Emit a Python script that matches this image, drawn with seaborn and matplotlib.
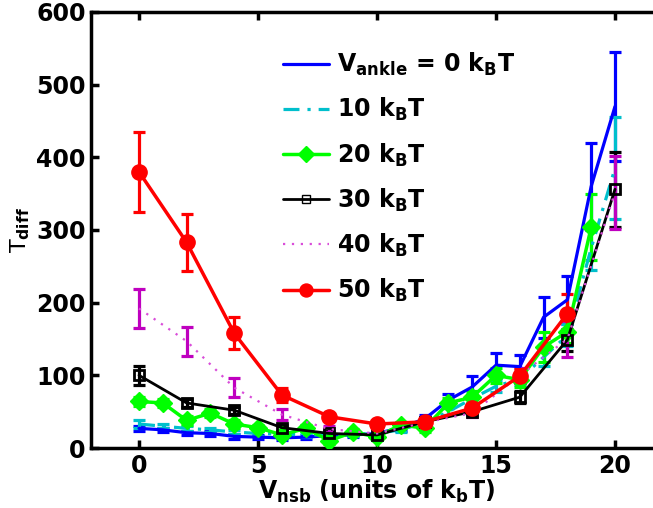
import numpy as np
import pandas as pd
import matplotlib
matplotlib.use("Agg")
import matplotlib.pyplot as plt
import seaborn as sns
from matplotlib.lines import Line2D

# ---- data ----
x_blue = list(range(0, 21))
y_blue = [27, 25, 21, 20, 16, 15, 14, 15, 17, 18, 20, 28, 40, 66, 84, 114, 112, 180, 204, 360, 470]
e_blue = [3, 3, 3, 3, 3, 3, 3, 3, 3, 3, 3, 4, 5, 8, 15, 17, 16, 28, 33, 60, 75]

x_cyan = list(range(0, 21))
y_cyan = [33, 30, 27, 25, 22, 20, 19, 18, 18, 19, 20, 25, 35, 50, 68, 85, 95, 125, 155, 275, 385]
e_cyan = [6, 3, 3, 3, 3, 3, 3, 3, 3, 3, 3, 3, 4, 5, 6, 8, 8, 12, 15, 30, 70]

x_green = list(range(0, 20))
y_green = [64, 62, 38, 48, 33, 28, 18, 27, 10, 22, 15, 32, 27, 62, 70, 100, 94, 139, 160, 304]
e_green = [6, 6, 6, 5, 5, 4, 4, 4, 4, 4, 4, 4, 5, 7, 8, 10, 10, 20, 15, 45]

x_black = list(range(0, 21, 2))
y_black = [100, 62, 52, 28, 20, 18, 36, 50, 70, 149, 356]
e_black = [13, 6, 5, 4, 3, 3, 4, 5, 8, 15, 52]

x_mag = list(range(0, 21, 2))
y_mag = [192, 147, 83, 46, 26, 20, 35, 48, 100, 150, 352]
e_mag = [27, 20, 13, 7, 4, 3, 4, 6, 10, 25, 50]

x_red = list(range(0, 19, 2))
y_red = [380, 283, 158, 73, 43, 33, 36, 55, 99, 185]
e_red = [55, 39, 22, 10, 4, 4, 5, 6, 10, 27]

labels = [r"V$_{\mathbf{ankle}}$ = 0 k$_\mathbf{B}$T", r"10 k$_\mathbf{B}$T", r"20 k$_\mathbf{B}$T",
          r"30 k$_\mathbf{B}$T", r"40 k$_\mathbf{B}$T", r"50 k$_\mathbf{B}$T"]

# ---- style ----
sns.set_style("ticks")
plt.rcParams['font.family'] = ['DejaVu Sans']
plt.rcParams['mathtext.fontset'] = 'dejavusans'
plt.rcParams['mathtext.default'] = 'bf'
for k in ['text.color', 'axes.labelcolor', 'xtick.color', 'ytick.color', 'axes.edgecolor']:
    plt.rcParams[k] = 'black'

fig = plt.figure(figsize=(6.53, 5.08), dpi=100)
ax = fig.add_axes([0.140, 0.1181, 0.8747, 0.8583])

series = [
    dict(x=x_blue, y=y_blue, e=e_blue, color=(0, 0, 1), ls='-', lw=2.3, marker=None, ms=0,
         ecolor=(0, 0, 1), mfc=None),
    dict(x=x_cyan, y=y_cyan, e=e_cyan, color=(0.0, 0.75, 0.8), ls=(0, (5, 2.5, 1, 2.5)), lw=2.3,
         marker=None, ms=0, ecolor=(0.0, 0.75, 0.8), mfc=None),
    dict(x=x_green, y=y_green, e=e_green, color=(0, 1, 0), ls='-', lw=2.5, marker='D', ms=9,
         ecolor=(0, 1, 0), mfc=(0, 1, 0)),
    dict(x=x_black, y=y_black, e=e_black, color=(0, 0, 0), ls='-', lw=2.0, marker='s', ms=7,
         ecolor=(0, 0, 0), mfc='none'),
    dict(x=x_mag, y=y_mag, e=e_mag, color=(0.85, 0.3, 0.85), ls=(0, (1, 3)), lw=1.6, marker=None,
         ms=0, ecolor=(0.75, 0, 0.75), mfc=None),
    dict(x=x_red, y=y_red, e=e_red, color=(1, 0, 0), ls='-', lw=2.5, marker='o', ms=11,
         ecolor=(1, 0, 0), mfc=(1, 0, 0)),
]

handles = []
for s, lab in zip(series, labels):
    ax.errorbar(s['x'], s['y'], yerr=s['e'], fmt='none', ecolor=s['ecolor'],
                elinewidth=2.3, capsize=4.5, capthick=2.3, zorder=2)
    df = pd.DataFrame({'x': s['x'], 'y': s['y']})
    kw = dict(color=s['color'], linestyle=s['ls'], linewidth=s['lw'])
    if s['marker']:
        kw.update(marker=s['marker'], markersize=s['ms'], markeredgecolor=s['color'],
                  markerfacecolor=s['mfc'], markeredgewidth=2 if s['mfc'] == 'none' else 1)
    sns.lineplot(data=df, x='x', y='y', ax=ax, zorder=3, **kw)
    hk = dict(color=s['color'], linestyle=s['ls'], linewidth=s['lw'])
    if s['marker']:
        hk.update(marker=s['marker'], markersize=s['ms'] * 0.85 if s['marker'] != 's' else 6,
                  markeredgecolor=s['color'], markerfacecolor=s['mfc'], markeredgewidth=1)
    handles.append(Line2D([], [], **hk))

ax.set_xlim(-2, 22)
ax.set_ylim(0, 600)
ax.set_xticks([0, 5, 10, 15, 20])
ax.set_yticks([0, 100, 200, 300, 400, 500, 600])
ax.tick_params(direction='in', length=6, width=2.5, labelsize=17, top=True, right=True, pad=4)
for lab in ax.get_xticklabels() + ax.get_yticklabels():
    lab.set_fontweight('bold')
for sp in ax.spines.values():
    sp.set_linewidth(2.5)

ax.set_xlabel(r"V$_{\mathbf{nsb}}$ (units of k$_\mathbf{b}$T)", fontsize=17, fontweight='bold', labelpad=0)
ax.set_ylabel(r"T$_{\mathbf{diff}}$", fontsize=16, labelpad=3)

leg = ax.legend(handles, labels, loc='upper left', bbox_to_anchor=(0.408, 0.932),
                bbox_transform=fig.transFigure, frameon=False,
                prop={'size': 17, 'weight': 'bold'}, handlelength=1.95, handletextpad=0.35,
                labelspacing=0.76, borderpad=0.2)

fig.savefig("out.png", dpi=100)
